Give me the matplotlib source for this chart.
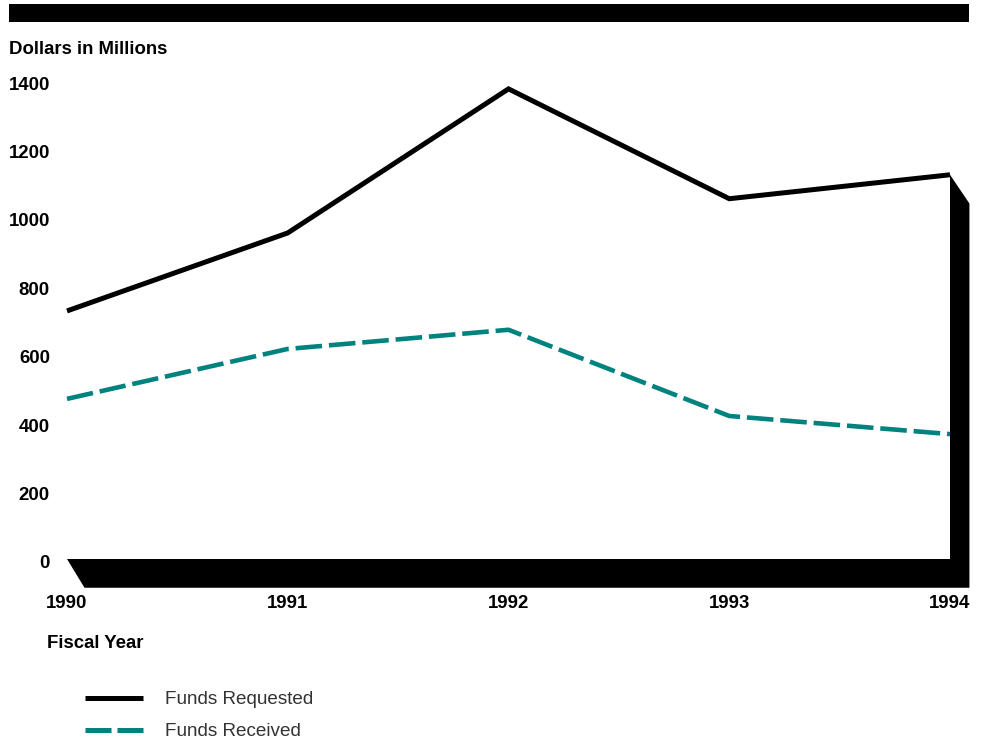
import matplotlib.pyplot as plt
from matplotlib.patches import Polygon, Rectangle
from matplotlib.lines import Line2D
from matplotlib.transforms import blended_transform_factory, ScaledTranslation

plt.rcParams['font.family'] = ['Liberation Sans', 'DejaVu Sans']

# fiscal years and funding (dollars in millions)
years = [1990, 1991, 1992, 1993, 1994]
funds_requested = [725, 953, 1374, 1053, 1123]
funds_received = [468, 614, 670, 418, 365]
y_ticks = [0, 200, 400, 600, 800, 1000, 1200, 1400]

TEAL = '#00827f'
W, H = 987, 742
FS = 13.4

fig = plt.figure(figsize=(W / 100, H / 100), dpi=100)

# plot box in pixels: x 67..950, y 80..559 (from top)
ax = fig.add_axes([67 / W, 1 - 559 / H, 883 / W, 479 / H])
ax.set_xlim(1990, 1994)
ax.set_ylim(0, 1400)
ax.axis('off')

# black banner across the top
fig.add_artist(Rectangle((9 / W, 1 - 22 / H), 960 / W, 18 / H,
                         transform=fig.transFigure, color='black', lw=0))

# pseudo-3D floor and right wall
dx, dy = 0.088, 84
top = funds_requested[-1]
frame = Polygon([(years[0], 0), (years[-1], 0), (years[-1], top),
                 (years[-1] + dx, top - dy), (years[-1] + dx, -dy),
                 (years[0] + dx * 0.9, -dy)],
                closed=True, facecolor='black', edgecolor='none', clip_on=False, zorder=1)
ax.add_patch(frame)

ax.plot(years, funds_requested, color='black', lw=3.6, solid_joinstyle='miter',
        solid_capstyle='butt', zorder=3, clip_on=False)
ax.plot(years, funds_received, color=TEAL, lw=3.3, dashes=(5.8, 1.5),
        dash_capstyle='butt', zorder=3, clip_on=False)

# y tick labels, right aligned at x = 50 px, nudged down a little
ytrans = blended_transform_factory(fig.transFigure, ax.transData) + \
    ScaledTranslation(0, -5 / 100, fig.dpi_scale_trans)
for v in y_ticks:
    ax.text(50 / W, v, str(v), transform=ytrans, fontsize=FS, fontweight='bold',
            ha='right', va='center')

# x tick labels
xtrans = blended_transform_factory(ax.transData, fig.transFigure)
for yr in years:
    ax.text(yr, 1 - 604 / H, str(yr), transform=xtrans, fontsize=FS, fontweight='bold',
            ha='center', va='center')

fig.text(9 / W, 1 - 50 / H, 'Dollars in Millions', fontsize=FS, fontweight='bold',
         ha='left', va='center')
fig.text(47 / W, 1 - 644 / H, 'Fiscal Year', fontsize=FS, fontweight='bold',
         ha='left', va='center')

# legend
legend_items = [('Funds Requested', dict(color='black', lw=3.6)),
                ('Funds Received', dict(color=TEAL, lw=3.6, dashes=(5.2, 1.2),
                                        dash_capstyle='butt'))]
for i, (label, style) in enumerate(legend_items):
    yy = 1 - (698 + 32 * i) / H
    fig.add_artist(Line2D([85 / W, 143 / W], [yy, yy], transform=fig.transFigure,
                          solid_capstyle='butt', **style))
    fig.text(165 / W, yy - 2 / H, label, fontsize=13.6, color='#333333',
             ha='left', va='center')

fig.savefig('out.png', dpi=100)
